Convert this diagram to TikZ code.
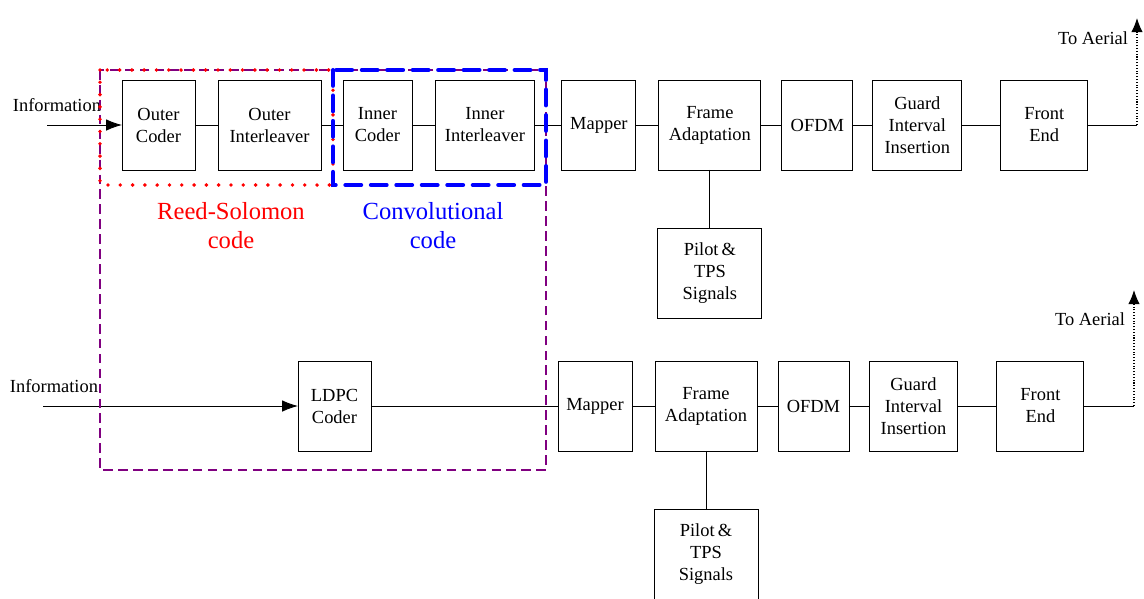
\documentclass[tikz,border=0pt]{standalone}
\usepackage{fontspec}
\setmainfont{Liberation Serif}
\usetikzlibrary{positioning, arrows.meta}
\definecolor{rsred}{RGB}{255,0,0}
\definecolor{ccblue}{RGB}{0,0,255}
\definecolor{grppurple}{RGB}{128,0,128}

\begin{document}
\begin{tikzpicture}[
    x=0.02cm, y=-0.02cm,
    box/.style = {draw, line width=0.5pt, minimum height=1.8cm,
                  inner sep=0pt, outer sep=0pt, align=center,
                  font=\fontsize{10.5}{12.5}\selectfont},
    lbl/.style = {font=\fontsize{10.5}{12.5}\selectfont},
    code/.style = {align=center, font=\fontsize{14}{16.5}\selectfont},
    link/.style = {line width=0.5pt},
    arr/.style = {line width=0.5pt, -{Latex[length=9pt, width=6.5pt]}},
    aer/.style = {line width=0.6pt, densely dotted, -{Latex[length=8pt, width=6.5pt]}},
  ]
    \useasboundingbox (0,0) rectangle (1144,599);

    % DVB-T chain
    \node[box, minimum width=1.46cm] (oc) at (158.5,125) {Outer\\Coder};
    \node[box, minimum width=2.06cm, right=0.46cm of oc] (oi) {Outer\\Interleaver};
    \node[box, minimum width=1.38cm, right=0.44cm of oi] (ic) {Inner\\Coder};
    \node[box, minimum width=2.00cm, right=0.46cm of ic] (ii) {Inner\\Interleaver};
    \node[box, minimum width=1.48cm, right=0.54cm of ii] (map1) {Mapper};
    \node[box, minimum width=2.04cm, right=0.46cm of map1] (fa1) {Frame\\Adaptation};
    \node[box, minimum width=1.42cm, right=0.42cm of fa1] (ofdm1) {OFDM};
    \node[box, minimum width=1.78cm, right=0.40cm of ofdm1] (gi1) {Guard\\Interval\\Insertion};
    \node[box, minimum width=1.74cm, right=0.78cm of gi1] (fe1) {Front\\End};
    \node[box, minimum width=2.08cm, below=1.16cm of fa1] (pil1) {Pilot\,\&\\TPS\\Signals};

    \coordinate (in1) at (47,125);
    \coordinate (ae1) at (1137,18);
    \coordinate (cn1) at (fe1.east -| ae1);
    \node[lbl] (inf1) at (57,105) {Information};
    \node[lbl] (to1) at (1093,38) {To Aerial};

    \draw[arr] (in1) -- (oc);
    \draw[link] (oc) -- (oi);
    \draw[link] (oi) -- (ic);
    \draw[link] (ic) -- (ii);
    \draw[link] (ii) -- (map1);
    \draw[link] (map1) -- (fa1);
    \draw[link] (fa1) -- (ofdm1);
    \draw[link] (ofdm1) -- (gi1);
    \draw[link] (gi1) -- (fe1);
    \draw[link] (fa1) -- (pil1);
    \draw[link] (fe1) -- (cn1);
    \draw[aer] (cn1) -- (ae1);

    % LDPC chain
    \node[box, minimum width=1.46cm] (ldpc) at (334.5,406) {LDPC\\Coder};
    \node[box, minimum width=1.48cm] (map2) at (595,406) {Mapper};
    \node[box, minimum width=2.04cm, right=0.46cm of map2] (fa2) {Frame\\Adaptation};
    \node[box, minimum width=1.42cm, right=0.42cm of fa2] (ofdm2) {OFDM};
    \node[box, minimum width=1.78cm, right=0.40cm of ofdm2] (gi2) {Guard\\Interval\\Insertion};
    \node[box, minimum width=1.74cm, right=0.78cm of gi2] (fe2) {Front\\End};
    \node[box, minimum width=2.08cm, below=1.16cm of fa2] (pil2) {Pilot\,\&\\TPS\\Signals};

    \coordinate (in2) at (43,406);
    \coordinate (ae2) at (1134,290);
    \coordinate (cn2) at (fe2.east -| ae2);
    \node[lbl] (inf2) at (54,386) {Information};
    \node[lbl] (to2) at (1090,319) {To Aerial};

    \draw[arr] (in2) -- (ldpc);
    \draw[link] (ldpc) -- (map2);
    \draw[link] (map2) -- (fa2);
    \draw[link] (fa2) -- (ofdm2);
    \draw[link] (ofdm2) -- (gi2);
    \draw[link] (gi2) -- (fe2);
    \draw[link] (fa2) -- (pil2);
    \draw[link] (fe2) -- (cn2);
    \draw[aer] (cn2) -- (ae2);

    % code groups
    \draw[grppurple, line width=1.1pt, dash pattern=on 5.5pt off 3pt]
      (100,70) rectangle (546,470);
    \draw[rsred, line width=2.2pt, line cap=round, dash pattern=on 0pt off 7pt]
      (100,70) rectangle (333,185);
    \draw[ccblue, line width=2.3pt, line cap=round, dash pattern=on 9pt off 5.5pt]
      (333,70) rectangle (546,185);

    \node[code, text=rsred] (rs) at (231,226) {Reed-Solomon\\code};
    \node[code, text=ccblue] (cc) at (433,226) {Convolutional\\code};
  \end{tikzpicture}
\end{document}
